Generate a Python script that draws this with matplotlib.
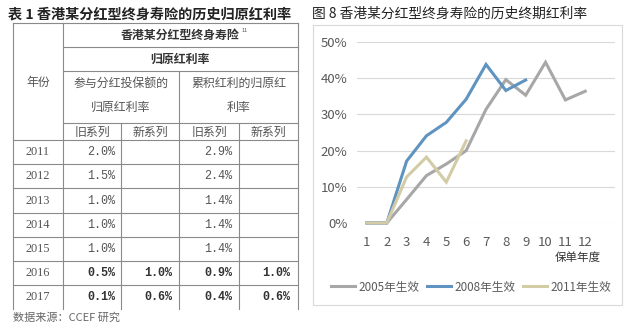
import matplotlib.pyplot as plt

plt.rcParams['font.family'] = ['Noto Sans CJK SC', 'DejaVu Sans']

# 表格数据
years = ['2011', '2012', '2013', '2014', '2015', '2016', '2017']
old_part = ['2.0%', '1.5%', '1.0%', '1.0%', '1.0%', '0.5%', '0.1%']
new_part = ['', '', '', '', '', '1.0%', '0.6%']
old_acc = ['2.9%', '2.4%', '1.4%', '1.4%', '1.4%', '0.9%', '0.4%']
new_acc = ['', '', '', '', '', '1.0%', '0.6%']

# 折线图数据
policy_year = [1, 2, 3, 4, 5, 6, 7, 8, 9, 10, 11, 12]
s2005 = [0, 0, 0.065, 0.131, 0.163, 0.20, 0.314, 0.396, 0.353, 0.444, 0.34, 0.364]
s2008 = [0, 0, 0.171, 0.241, 0.278, 0.342, 0.438, 0.366, 0.395]
s2011 = [0, 0, 0.127, 0.182, 0.113, 0.227]
series_names = ['2005年生效', '2008年生效', '2011年生效']
colors = ['#A7A7A7', '#5F93C0', '#D2CBA6']

W, H = 640, 329
fig = plt.figure(figsize=(W / 100, H / 100), dpi=100)

# 画表格(像素坐标)
tb = fig.add_axes([0, 0, 1, 1])
tb.set_xlim(0, W)
tb.set_ylim(H, 0)
tb.axis('off')

lc = '#8a8a8a'
def hline(y, x1, x2):
	tb.plot([x1, x2], [y, y], color=lc, lw=0.8)
def vline(x, y1, y2):
	tb.plot([x, x], [y1, y2], color=lc, lw=0.8)

rows = [140, 164, 188, 213, 237, 261, 285, 309]
hline(23, 13, 298)
hline(47, 63, 298)
hline(71, 63, 298)
hline(123, 63, 298)
for y in rows[:-1]:
	hline(y, 13, 298)
vline(13, 23, 309)
vline(63, 23, 309)
vline(298, 23, 309)
vline(179, 71, 309)
vline(121, 123, 309)
vline(239, 123, 309)

tc = '#333333'
lt = '#555555'
tb.text(8, 14, '表 1 香港某分红型终身寿险的历史归原红利率', fontsize=10.2, color='#222222',
		fontweight='bold', va='center', ha='left')
tb.text(180, 35, '香港某分红型终身寿险', fontsize=8.6, color=tc, fontweight='bold', ha='center', va='center')
tb.text(242, 31, '11', fontsize=4, color=lt, ha='left', va='center')
tb.text(180, 59, '归原红利率', fontsize=8.6, color=tc, fontweight='bold', ha='center', va='center')
tb.text(121, 83, '参与分红投保额的', fontsize=8.6, color=lt, ha='center', va='center')
tb.text(121, 107, '归原红利率', fontsize=8.6, color=lt, ha='center', va='center')
tb.text(239, 83, '累积红利的归原红', fontsize=8.6, color=lt, ha='center', va='center')
tb.text(239, 107, '利率', fontsize=8.6, color=lt, ha='center', va='center')
tb.text(38, 82, '年份', fontsize=8.6, color=lt, ha='center', va='center')
for cx, t in zip([92, 150, 209, 268], ['旧系列', '新系列', '旧系列', '新系列']):
	tb.text(cx, 132, t, fontsize=8.6, color=lt, ha='center', va='center')

for i in range(len(years)):
	cy = (rows[i] + rows[i + 1]) / 2
	bold = 'bold' if new_part[i] else 'normal'
	tb.text(38, cy, years[i], fontsize=8.8, color=lt, family='Liberation Serif', ha='center', va='center')
	for x, v in zip([115, 172, 232, 290], [old_part[i], new_part[i], old_acc[i], new_acc[i]]):
		if v:
			tb.text(x, cy, v, fontsize=8.5, color=tc if new_part[i] else lt, family='Liberation Mono',
					fontweight=bold, ha='right', va='center')

tb.text(13, 318, '数据来源：CCEF 研究', fontsize=8, color='#666666', ha='left', va='center')

# 右侧图框和标题
tb.plot([313, 622, 622, 313, 313], [25, 25, 305, 305, 25], color='#d9d9d9', lw=0.8)
tb.text(312, 14, '图 8 香港某分红型终身寿险的历史终期红利率', fontsize=9.9, color='#222222',
		ha='left', va='center')

# 折线图
ax = fig.add_axes([357 / W, 1 - 223 / H, (615 - 357) / W, (223 - 42) / H])
ax.set_xlim(0.5, 13.5)
ax.set_ylim(0, 0.5)
ax.set_yticks([0, 0.1, 0.2, 0.3, 0.4, 0.5])
ax.set_yticklabels(['0%', '10%', '20%', '30%', '40%', '50%'])
ax.set_xticks(policy_year)
ax.grid(axis='y', color='#d9d9d9', lw=0.8)
ax.set_axisbelow(True)
for sp in ax.spines.values():
	sp.set_visible(False)
ax.tick_params(length=0, labelsize=9.5, colors='#595959', pad=7)
ax.tick_params(axis='x', pad=9)
ax.patch.set_alpha(0)

handles = []
for name, data, c in zip(series_names, [s2005, s2008, s2011], colors):
	h, = ax.plot(policy_year[:len(data)], data, color=c, lw=2.2, clip_on=False,
				 solid_joinstyle='miter', label=name)
	handles.append(h)

tb.text(578, 257, '保单年度', fontsize=8.3, color='#333333', ha='center', va='center')
fig.legend(handles=handles, loc='center', bbox_to_anchor=(471 / W, 1 - 287 / H), ncol=3,
		   frameon=False, fontsize=8.4, handlelength=2.1, handletextpad=0.3, columnspacing=0.6,
		   labelcolor='#595959')

fig.savefig('out.png', dpi=100)
